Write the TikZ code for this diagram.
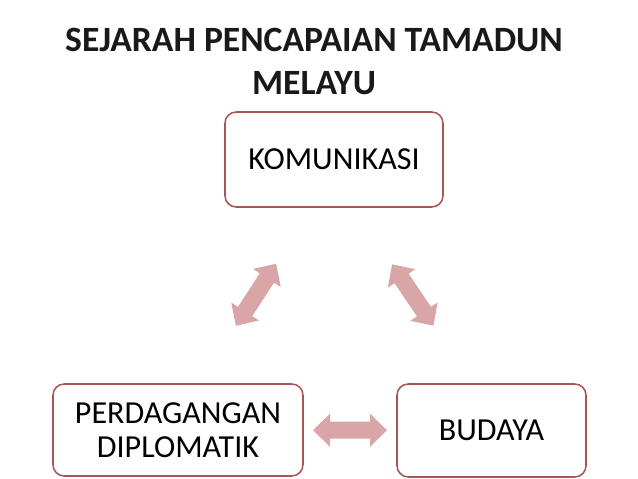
\documentclass[tikz,border=0pt]{standalone}
\usepackage{fontspec}
\setmainfont{Carlito}
\usetikzlibrary{calc}

\definecolor{boxred}{RGB}{168,86,84}
\definecolor{arrowpink}{RGB}{217,165,166}

\tikzset{
  box/.style={draw=boxred, line width=1.1pt, rounded corners=8pt, fill=white,
    font=\fontsize{22.8}{24.2}\selectfont, align=center, inner sep=0pt},
  dblarrow/.pic={
    \fill[arrowpink] (-37,0) -- (-20,16.5) -- (-20,8.5) -- (20,8.5) -- (20,16.5)
      -- (37,0) -- (20,-16.5) -- (20,-8.5) -- (-20,-8.5) -- (-20,-16.5) -- cycle;
  }
}

\begin{document}
\begin{tikzpicture}[x=0.025cm, y=0.025cm]

\useasboundingbox (0,0) rectangle (638,479);

% заголовок
\node[font=\fontsize{25.3}{30.6}\bfseries\selectfont, text=black!90, align=center]
  (title) at (314,418) {SEJARAH PENCAPAIAN TAMADUN\\MELAYU};

% блоки
\node[box, minimum width=218*0.025cm, minimum height=95*0.025cm] (kom) at (334,319.5) {KOMUNIKASI};
\node[box, minimum width=250*0.025cm, minimum height=92*0.025cm] (perd) at (178,49) {PERDAGANGAN\\DIPLOMATIK};
\node[box, minimum width=189*0.025cm, minimum height=93*0.025cm] (bud) at (491.5,48.5) {BUDAYA};

% стрелки
\pic[rotate=57] at ($(kom)!0.5!(perd)$) {dblarrow};
\pic[rotate=-56] at ($(kom)!0.5!(bud)$) {dblarrow};
\pic at ($(perd.east)!0.5!(bud.west)$) {dblarrow};

\end{tikzpicture}
\end{document}
